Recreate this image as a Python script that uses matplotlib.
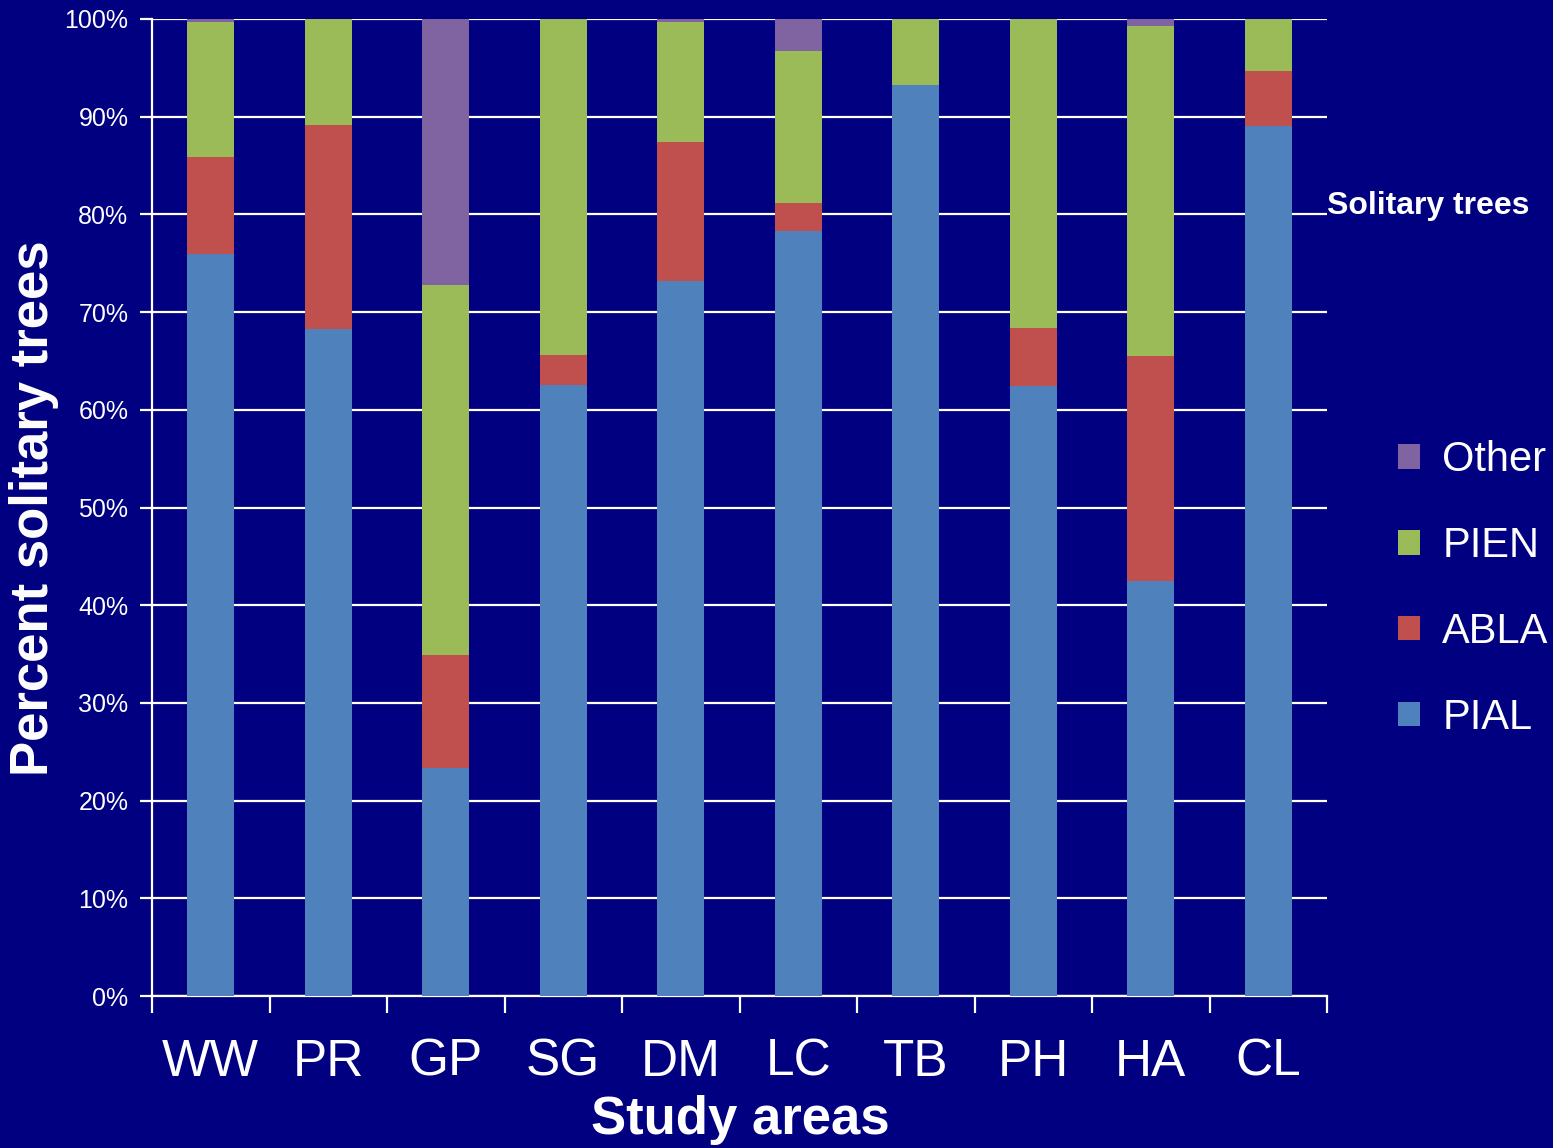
import numpy as np
import matplotlib.pyplot as plt
from matplotlib.ticker import PercentFormatter

plt.rcParams['font.family'] = ['Liberation Sans', 'DejaVu Sans']

areas = ['WW', 'PR', 'GP', 'SG', 'DM', 'LC', 'TB', 'PH', 'HA', 'CL']
pial = [75.9, 68.3, 23.3, 62.5, 73.2, 78.3, 93.2, 62.4, 42.5, 89.0]
abla = [10.0, 20.8, 11.6, 3.1, 14.2, 2.9, 0.0, 6.0, 23.0, 5.7]
pien = [13.8, 10.9, 37.9, 34.4, 12.3, 15.5, 6.8, 31.6, 33.8, 5.3]
other = [0.3, 0.0, 27.2, 0.0, 0.3, 3.3, 0.0, 0.0, 0.7, 0.0]

bg = '#000080'
fig = plt.figure(figsize=(15.53, 11.48), dpi=100, facecolor=bg)
ax = fig.add_axes([152/1553, 1-996/1148, (1327-152)/1553, (996-19)/1148])
ax.set_facecolor(bg)

x = np.arange(len(areas))
w = 0.4
bottom = np.zeros(len(areas))
series = [('PIAL', pial, '#4F81BD'), ('ABLA', abla, '#C0504D'),
          ('PIEN', pien, '#9BBB59'), ('Other', other, '#8064A2')]
handles = []
for name, vals, col in series:
    b = ax.bar(x, vals, w, bottom=bottom, color=col, label=name, zorder=3)
    bottom += np.array(vals)
    handles.append(b)

ax.set_xlim(-0.5, len(areas) - 0.5)
ax.set_ylim(0, 100)
ax.set_yticks(np.arange(0, 101, 10))
ax.yaxis.set_major_formatter(PercentFormatter(decimals=0))
ax.grid(axis='y', color='white', linewidth=1.6, zorder=0)
ax.set_axisbelow(True)

ax.set_xticks(x)
ax.set_xticklabels(areas, fontsize=37, color='white')
ax.set_xticks(np.arange(-0.5, len(areas)), minor=True)
ax.tick_params(axis='x', which='major', length=0, pad=30)
ax.tick_params(axis='x', which='minor', length=12, width=1.6, color='white', direction='out')
ax.tick_params(axis='y', labelsize=18, labelcolor='white', length=9, width=1.6,
               color='white', pad=8)

for s in ['top', 'right']:
    ax.spines[s].set_visible(False)
for s in ['left', 'bottom']:
    ax.spines[s].set_color('white')
    ax.spines[s].set_linewidth(1.6)

fig.text(740/1553, 1-1120/1148, 'Study areas', fontsize=38, fontweight='bold',
         color='white', ha='center', va='center')
fig.text(34/1553, 1-508/1148, 'Percent solitary trees', fontsize=38, fontweight='bold',
         color='white', ha='center', va='center', rotation=90)
ax.text(1.0, 0.809, 'Solitary trees', transform=ax.transAxes, fontsize=23,
        fontweight='bold', color='white', ha='left', va='center')

leg = fig.legend(handles[::-1], [s[0] for s in series][::-1], loc='center left',
                 bbox_to_anchor=(1398/1553, 1-589/1148), frameon=False, fontsize=30,
                 handlelength=0.53, handleheight=0.53, handletextpad=0.53,
                 labelspacing=1.1, borderpad=0, borderaxespad=0)
for t in leg.get_texts():
    t.set_color('white')

fig.savefig('out.png', dpi=100, facecolor=bg)
